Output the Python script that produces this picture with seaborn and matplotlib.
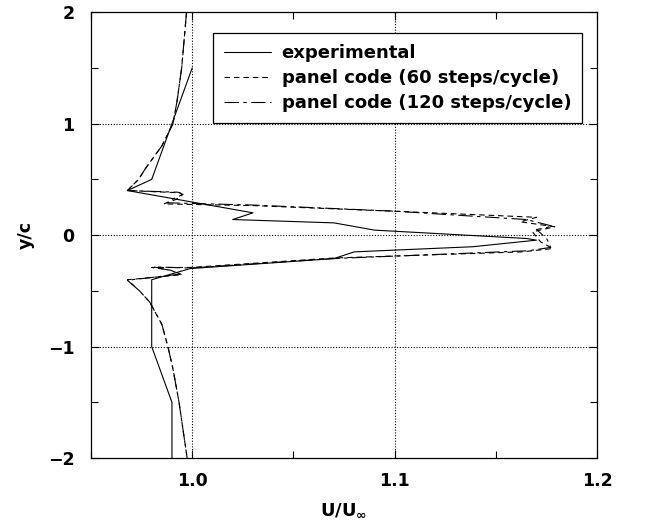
import numpy as np
import pandas as pd
import matplotlib
matplotlib.use('Agg')
import matplotlib.pyplot as plt
import seaborn as sns
from matplotlib.ticker import MultipleLocator

# experimental profile
exp_x = [1.0, 0.98, 0.968, 1.03, 1.02, 1.07, 1.09, 1.165, 1.17, 1.1385, 1.08, 1.07,
         0.999, 0.98, 0.98, 0.99, 0.99]
exp_y = [1.5, 0.5, 0.4, 0.2, 0.14, 0.11, 0.045, -0.03, -0.045, -0.104, -0.15, -0.21,
         -0.3, -0.4, -1.0, -1.5, -2.0]

# panel code, 60 steps/cycle
p60_x = [0.9972, 0.9948, 0.9925, 0.9905, 0.985, 0.977, 0.9735, 0.968, 0.994, 0.995,
         0.992, 0.986, 1.03, 1.106, 1.17, 1.162, 1.179, 1.168, 1.172, 1.178, 1.163,
         1.07, 0.999, 0.980, 0.989, 0.995, 0.968, 0.974, 0.979, 0.985, 0.988, 0.9905,
         0.9935, 0.9975]
p60_y = [2.0, 1.5, 1.2, 1.0, 0.8, 0.6, 0.5, 0.4, 0.38, 0.36,
         0.32, 0.28, 0.265, 0.21, 0.16, 0.12, 0.075, 0.03, -0.06, -0.12, -0.15,
         -0.205, -0.29, -0.29, -0.313, -0.355, -0.4, -0.5, -0.6, -0.8, -1.0, -1.2,
         -1.5, -2.0]

# panel code, 120 steps/cycle
p120_x = [0.9972, 0.9948, 0.9925, 0.9905, 0.985, 0.977, 0.9735, 0.968, 0.993, 0.9955,
          0.991, 0.9875, 1.03, 1.10, 1.13, 1.165, 1.178, 1.17, 1.175, 1.177, 1.166,
          1.07, 0.999, 0.981, 0.99, 0.994, 0.968, 0.974, 0.979, 0.985, 0.988, 0.9905,
          0.9935, 0.9975]
p120_y = [2.0, 1.5, 1.2, 1.0, 0.8, 0.6, 0.5, 0.4, 0.385, 0.365,
          0.33, 0.29, 0.27, 0.215, 0.18, 0.14, 0.08, 0.05, -0.03, -0.11, -0.14,
          -0.21, -0.295, -0.285, -0.32, -0.35, -0.405, -0.5, -0.6, -0.8, -1.0, -1.2,
          -1.5, -2.0]

sns.set_style('ticks')
plt.rcParams['font.family'] = ['DejaVu Sans']
plt.rcParams['font.weight'] = 'bold'
plt.rcParams['mathtext.default'] = 'bf'
plt.rcParams['text.color'] = 'black'
plt.rcParams['axes.labelcolor'] = 'black'
plt.rcParams['xtick.color'] = 'black'
plt.rcParams['ytick.color'] = 'black'

fig, ax = plt.subplots(figsize=(6.45, 5.29), dpi=100)
fig.subplots_adjust(left=0.141, right=0.926, bottom=0.134, top=0.977)

df_exp = pd.DataFrame({'x': exp_x, 'y': exp_y})
df_60 = pd.DataFrame({'x': p60_x, 'y': p60_y})
df_120 = pd.DataFrame({'x': p120_x, 'y': p120_y})

sns.lineplot(data=df_exp, x='x', y='y', sort=False, estimator=None, ax=ax,
             color='black', linewidth=0.8, label='experimental')
sns.lineplot(data=df_60, x='x', y='y', sort=False, estimator=None, ax=ax,
             color='black', linewidth=0.8, linestyle=(0, (5, 3.5)),
             label='panel code (60 steps/cycle)')
sns.lineplot(data=df_120, x='x', y='y', sort=False, estimator=None, ax=ax,
             color='black', linewidth=0.8, linestyle=(0, (13, 4, 3, 4)),
             label='panel code (120 steps/cycle)')

ax.set_xlim(0.95, 1.2)
ax.set_ylim(-2, 2)
ax.xaxis.set_minor_locator(MultipleLocator(0.05))
ax.yaxis.set_major_locator(MultipleLocator(1))
ax.yaxis.set_minor_locator(MultipleLocator(0.5))
ax.set_xticks([1.0, 1.1, 1.2])
ax.set_xticklabels(['1.0', '1.1', '1.2'])

for v in [1.0, 1.1]:
    ax.axvline(v, color='black', linestyle=(0, (1, 1.5)), linewidth=0.8, zorder=0)
for v in [-1, 0, 1]:
    ax.axhline(v, color='black', linestyle=(0, (1, 1.5)), linewidth=0.8, zorder=0)

ax.tick_params(which='both', direction='in', top=True, right=True, colors='black',
               labelsize=12.5, width=0.8)
ax.tick_params(which='major', length=6)
ax.tick_params(which='minor', length=5)
ax.tick_params(axis='x', which='major', pad=10)
ax.tick_params(axis='y', which='major', pad=12)
for s in ax.spines.values():
    s.set_color('black')
    s.set_linewidth(0.9)

ax.set_xlabel(r'U/U$_{\infty}$', fontsize=13, fontweight='bold', labelpad=8)
ax.set_ylabel('y/c', fontsize=12.5, fontweight='bold', labelpad=9)

leg = ax.legend(loc='upper left', bbox_to_anchor=(0.241, 0.953), borderaxespad=0,
                fontsize=13, handlelength=2.6, handletextpad=0.6, borderpad=0.6,
                labelspacing=0.4, fancybox=False, framealpha=1, edgecolor='black')
leg.get_frame().set_linewidth(0.9)
for t in leg.get_texts():
    t.set_fontweight('bold')
    t.set_color('black')

fig.savefig('out.png', dpi=100)
